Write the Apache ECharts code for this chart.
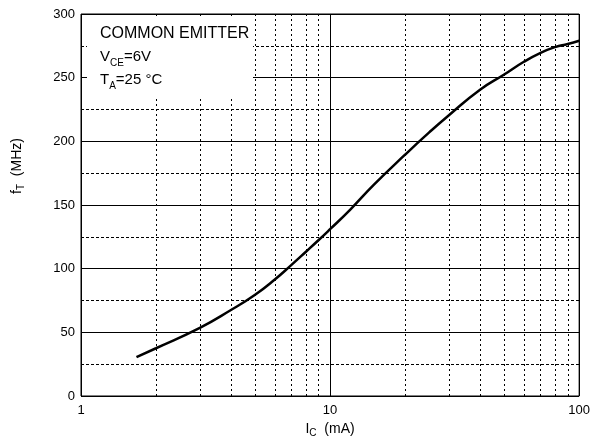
<!DOCTYPE html>
<html>
<head>
<meta charset="utf-8">
<title>fT vs IC</title>
<script src="https://cdn.jsdelivr.net/npm/echarts@6/dist/echarts.min.js"></script>
<style>
  html, body { margin: 0; padding: 0; background: #fff; }
  #chart { width: 593px; height: 443px; }
</style>
</head>
<body>
<div id="chart"></div>
<script>
// Collector current IC (mA) and transition frequency fT (MHz)
var collectorCurrent = [1.67, 2, 3, 4, 5, 6, 7, 8, 9, 10, 12, 15, 20, 25, 30, 40, 50, 60, 70, 80, 90, 100];
var transitionFreq   = [30.5, 37.5, 53.5, 67.5, 79.5, 91.5, 103, 113.3, 122.5, 131, 146, 166, 189.5, 207, 220.5, 240.5, 252.5, 262.5, 269.5, 274, 276.5, 279];

// Dotted vertical grid lines within each decade of the log axis
var minorDecadeLines = [2, 3, 4, 5, 6, 7, 8, 9, 20, 30, 40, 50, 60, 70, 80, 90];

// Axis ranges
var xRange = [1, 100];
var yRange = [0, 300];
var yStep = 50;

var FONT = 'Liberation Sans, Arial, Helvetica, sans-serif';

var points = collectorCurrent.map(function (x, i) { return [x, transitionFreq[i]]; });

var chart = echarts.init(document.getElementById('chart'), null, { renderer: 'canvas' });

chart.setOption({
  animation: false,
  backgroundColor: '#fff',
  grid: {
    left: 81, right: 12, top: 14, bottom: 47,
    show: true, borderColor: '#000', borderWidth: 1, backgroundColor: 'transparent'
  },
  xAxis: {
    type: 'log',
    logBase: 10,
    min: xRange[0],
    max: xRange[1],
    axisLine: { show: false },
    axisTick: { show: false },
    axisLabel: { color: '#000', fontFamily: FONT, fontSize: 13, margin: 8 },
    splitLine: { show: true, lineStyle: { color: '#000', width: 1 } },
    name: '{m|I}{s|C}{m|  (mA)}',
    nameLocation: 'middle',
    nameGap: 22,
    nameTextStyle: {
      fontFamily: FONT,
      rich: {
        m: { fontFamily: FONT, fontSize: 14, color: '#000', lineHeight: 18 },
        s: { fontFamily: FONT, fontSize: 10, color: '#000', lineHeight: 10, verticalAlign: 'bottom' }
      }
    }
  },
  yAxis: {
    type: 'value',
    min: yRange[0],
    max: yRange[1],
    interval: yStep,
    axisLine: { show: false },
    axisTick: { show: false },
    axisLabel: { color: '#000', fontFamily: FONT, fontSize: 13, margin: 6 },
    splitLine: { show: true, lineStyle: { color: '#000', width: 1 } },
    minorTick: { show: false, splitNumber: 2 },
    minorSplitLine: { show: true, lineStyle: { color: '#000', width: 1, type: [3, 2] } }
  },
  series: [{
    type: 'line',
    data: points,
    smooth: 0.5,
    showSymbol: false,
    symbol: 'none',
    lineStyle: { color: '#000', width: 2.5 },
    z: 5,
    markLine: {
      silent: true,
      symbol: ['none', 'none'],
      label: { show: false },
      lineStyle: { color: '#000', width: 1, type: [2, 3] },
      emphasis: { disabled: true },
      data: minorDecadeLines.map(function (v) { return { xAxis: v }; })
    }
  }],
  graphic: [
    {
      type: 'rect',
      z: 100,
      silent: true,
      shape: { x: 87, y: 19, width: 166, height: 79 },
      style: { fill: '#fff' }
    },
    {
      type: 'text',
      z: 101,
      silent: true,
      x: 100,
      y: 22.5,
      style: {
        text: '{h|COMMON EMITTER}\n{m|V}{s|CE}{m|=6V}\n{m|T}{s|A}{m|=25 °C}',
        fill: '#000',
        font: '15px ' + FONT,
        lineHeight: 23,
        verticalAlign: 'top',
        rich: {
          h: { fontFamily: FONT, fontSize: 16, fill: '#000', lineHeight: 23 },
          m: { fontFamily: FONT, fontSize: 15, fill: '#000', lineHeight: 23 },
          s: { fontFamily: FONT, fontSize: 10, fill: '#000', lineHeight: 10, verticalAlign: 'bottom' }
        }
      }
    },
    {
      type: 'text',
      z: 101,
      silent: true,
      x: 17,
      y: 166,
      rotation: Math.PI / 2,
      style: {
        text: '{m|f}{s|T}{m|  (MHz)}',
        fill: '#000',
        align: 'center',
        verticalAlign: 'middle',
        rich: {
          m: { fontFamily: FONT, fontSize: 14, fill: '#000', lineHeight: 18 },
          s: { fontFamily: FONT, fontSize: 10, fill: '#000', lineHeight: 10, verticalAlign: 'bottom' }
        }
      }
    }
  ]
});
</script>
</body>
</html>
